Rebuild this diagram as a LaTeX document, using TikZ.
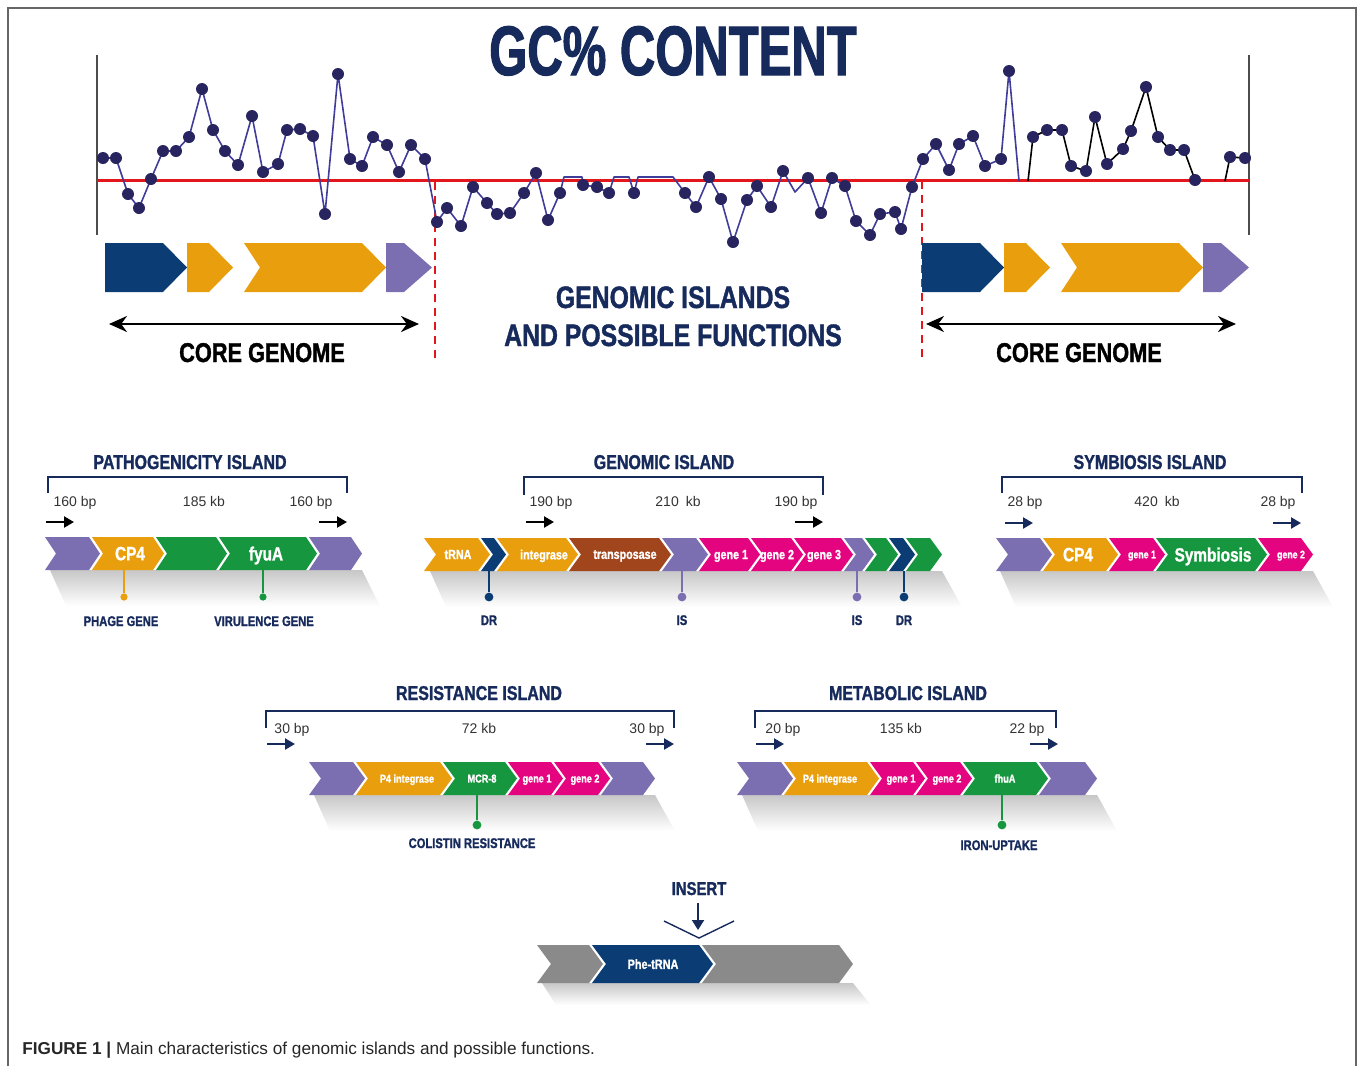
\documentclass[tikz,border=0pt]{standalone}
\usepackage{fontspec}
\setmainfont{Liberation Sans}
\newfontfamily\condfont[FakeStretch=0.8, BoldFeatures={FakeBold=1.3}]{Liberation Sans}
\newfontfamily\titlefont[FakeStretch=0.7, BoldFeatures={FakeBold=1.5}]{Liberation Sans}
\usetikzlibrary{positioning, arrows.meta, fadings}

\definecolor{ink}{HTML}{172A5C}
\definecolor{navy}{HTML}{0B3D74}
\definecolor{orng}{HTML}{E99E0E}
\definecolor{purp}{HTML}{7C6FB1}
\definecolor{grn}{HTML}{16963E}
\definecolor{mag}{HTML}{E4047F}
\definecolor{brwn}{HTML}{A1461C}
\definecolor{gry}{HTML}{8A8A8A}
\definecolor{redl}{HTML}{E3161C}
\definecolor{dotc}{HTML}{28245F}
\definecolor{linec}{HTML}{3F3C9A}

% chevron: fill, left x, tip x (row values in \rowT \rowB \rowM \rowD)
\newcommand{\chev}[3]{\fill[#1] (#2,\rowT) -- ({#3-\rowD},\rowT) -- (#3,\rowM) -- ({#3-\rowD},\rowB) -- (#2,\rowB) -- ({#2+\rowD},\rowM) -- cycle;}

\tikzset{
  gcline/.style={draw=linec, line width=0.8pt, line join=round},
  gcdot/.style={fill=dotc},
  islehead/.style={font=\condfont\bfseries\fontsize{10}{12}\selectfont, text=ink, anchor=base, inner sep=0pt},
  bplabel/.style={font=\fontsize{7}{8}\selectfont, text=black!80, anchor=base, inner sep=0pt},
  footlabel/.style={font=\condfont\bfseries\fontsize{7}{8}\selectfont, text=ink, anchor=base, inner sep=0pt},
  genetext/.style={text=white, inner sep=0pt, text depth=0pt},
  brk/.style={draw=ink, line width=0.8pt},
  bparrow/.style={line width=1.1pt, -{Triangle[length=5pt,width=5.5pt]}},
  stemline/.style={line width=0.8pt},
  rowshade/.style={fill=black!22, draw=none, path fading=south},
}

\begin{document}
\begin{tikzpicture}[x=0.5pt, y=-0.5pt]
\useasboundingbox (0,0) rectangle (1358,1066);
\draw[black!60, line width=1pt] (8,1066) -- (8,8) -- (1356,8) -- (1356,1066);

% title and graph
\node[font=\titlefont\bfseries\fontsize{35}{40}\selectfont, text=ink, anchor=base, inner sep=0pt] (gctitle) at (673,75) {GC\% CONTENT};
\draw[black!70, line width=0.6pt] (97,55) -- (97,235);
\draw[black!70, line width=0.6pt] (1249,55) -- (1249,235);
\draw[redl, line width=1.5pt] (97,180) -- (1249,180);
\draw[redl, line width=0.7pt, dash pattern=on 4pt off 3pt] (435,182) -- (435,362);
\draw[redl, line width=0.7pt, dash pattern=on 4pt off 3pt] (922,181) -- (922,362);

\draw[gcline] plot coordinates {(103,158) (116,158) (128,194) (139,208) (151,179) (163,151) (176,151) (189,137) (202,89) (213,130) (225,151) (238,165) (252,116) (263,172) (278,164) (287,130) (300,129) (313,136) (325,214) (338,74) (350,159) (362,166) (373,137) (387,145) (399,172) (411,145) (425,159) (437,222) (447,208) (461,226) (473,187) (487,203) (497,214) (510,213) (524,193) (536,173) (548,220) (560,193) (564,177) (582,177) (583,185) (597,187) (609,193) (614,177) (629,177) (634,193) (638,177) (673,177) (685,193) (696,207) (709,177) (721,199) (733,242) (747,200) (757,186) (771,207) (783,171) (795,192) (808,178) (821,213) (832,178) (845,186) (856,221) (870,235) (880,214) (895,212) (901,229) (912,187) (923,159) (936,144) (949,170) (959,144) (973,136) (985,166) (1001,159) (1009,71) (1019,181)};
\draw[black, line width=0.8pt] plot coordinates {(1028,181) (1033,137) (1047,130) (1062,130) (1071,166) (1086,171) (1095,117) (1107,164) (1123,149) (1131,131) (1146,87) (1158,137) (1170,150) (1184,150) (1195,180)};
\draw[black, line width=0.8pt] plot coordinates {(1225,181) (1230,157) (1245,158)};
\foreach \x/\y in {103/158, 116/158, 128/194, 139/208, 151/179, 163/151, 176/151, 189/137, 202/89, 213/130, 225/151, 238/165, 252/116, 263/172, 278/164, 287/130, 300/129, 313/136, 325/214, 338/74, 350/159, 362/166, 373/137, 387/145, 399/172, 411/145, 425/159, 437/222, 447/208, 461/226, 473/187, 487/203, 497/214, 510/213, 524/193, 536/173, 548/220, 560/193, 583/185, 597/187, 609/193, 634/193, 685/193, 696/207, 709/177, 721/199, 733/242, 747/200, 757/186, 771/207, 783/171, 808/178, 821/213, 832/178, 845/186, 856/221, 870/235, 880/214, 895/212, 901/229, 912/187, 923/159, 936/144, 949/170, 959/144, 973/136, 985/166, 1001/159, 1009/71, 1033/137, 1047/130, 1062/130, 1071/166, 1086/171, 1095/117, 1107/164, 1123/149, 1131/131, 1146/87, 1158/137, 1170/150, 1184/150, 1195/180, 1230/157, 1245/158}
  \fill[gcdot] (\x,\y) circle[radius=3pt];

% core genome rows
\foreach \s/\nm in {0/left, 817/right}{
\begin{scope}[shift={(\s,0)}]
\fill[navy] (105,243) -- (163,243) -- (187,267.5) -- (163,292) -- (105,292) -- cycle;
\fill[orng] (187,243) -- (209,243) -- (233,267.5) -- (209,292) -- (187,292) -- cycle;
\fill[orng] (244,243) -- (362,243) -- (386,267.5) -- (362,292) -- (244,292) -- (260,267.5) -- cycle;
\fill[purp] (386,243) -- (404,243) -- (432,267.5) -- (404,292) -- (386,292) -- cycle;
\draw[line width=1.2pt, {Stealth[length=9pt,width=8pt]}-{Stealth[length=9pt,width=8pt]}] (109,324) -- (419,324);
\node[font=\condfont\bfseries\fontsize{13.6}{15}\selectfont, anchor=base, inner sep=0pt] (core-\nm) at (262,362) {CORE GENOME};
\end{scope}}
\node[font=\condfont\bfseries\fontsize{15.5}{18}\selectfont, text=ink, anchor=base, inner sep=0pt] (gi-line1) at (673,308) {GENOMIC ISLANDS};
\node[font=\condfont\bfseries\fontsize{15.5}{18}\selectfont, text=ink, anchor=base, inner sep=0pt] (gi-line2) at (673,346) {AND POSSIBLE FUNCTIONS};

% pathogenicity island
\fill[rowshade] (50,570) -- (362,570) -- (380,606) -- (66,606) -- cycle;
\def\rowT{537}\def\rowB{570}\def\rowM{553.5}\def\rowD{11}
\node[islehead] (path-title) at (190,469) {PATHOGENICITY ISLAND};
\draw[brk] (48,493) -- (48,477) -- (347,477) -- (347,493);
\node[bplabel] (path-bp1) at (75,506) {160 bp};
\node[bplabel] (path-kb) at (204,506) {185 kb};
\node[bplabel] (path-bp2) at (311,506) {160 bp};
\draw[bparrow] (46,522) -- (74,522);
\draw[bparrow] (319,522) -- (347,522);
\chev{purp}{45}{100}
\chev{orng}{92}{164}
\chev{grn}{156}{227}
\chev{grn}{219}{317}
\chev{purp}{309}{362}
\node[genetext, font=\condfont\bfseries\fontsize{9.6}{11}\selectfont] (cp4-a) at (130,\rowM) {CP4};
\node[genetext, font=\condfont\bfseries\fontsize{9.6}{11}\selectfont] (fyua) at (266,\rowM) {fyuA};
\coordinate (phage-top) at (124,570);
\coordinate (vir-top) at (263,570);
\node[circle, fill=orng, inner sep=0pt, minimum size=3.6pt] (phage-dot) at (124,597) {};
\node[circle, fill=grn, inner sep=0pt, minimum size=3.6pt] (vir-dot) at (263,597) {};
\draw[stemline, orng] (phage-top) -- (phage-dot);
\draw[stemline, grn] (vir-top) -- (vir-dot);
\node[footlabel] (phage-lab) at (121,626) {PHAGE GENE};
\node[footlabel] (vir-lab) at (264,626) {VIRULENCE GENE};

% genomic island
\fill[rowshade] (430,571) -- (942,571) -- (962,607) -- (446,607) -- cycle;
\def\rowT{538}\def\rowB{571}\def\rowM{554.5}\def\rowD{12}
\node[islehead] (gen-title) at (664,469) {GENOMIC ISLAND};
\draw[brk] (524,495) -- (524,477) -- (823,477) -- (823,495);
\node[bplabel] (gen-bp1) at (551,506) {190 bp};
\node[bplabel] (gen-kb) at (678,506) {210\enspace kb};
\node[bplabel] (gen-bp2) at (796,506) {190 bp};
\draw[bparrow] (526,522) -- (554,522);
\draw[bparrow] (795,522) -- (823,522);
\chev{orng}{424}{490}
\chev{navy}{481}{506}
\chev{orng}{497}{578}
\chev{brwn}{569}{671}
\chev{purp}{662}{708}
\chev{mag}{699}{760}
\chev{mag}{751}{803}
\chev{mag}{794}{853}
\chev{purp}{844}{874}
\chev{grn}{865}{898}
\chev{navy}{889}{915}
\chev{grn}{906}{942}
\foreach \x/\t/\nm in {458/tRNA/trna, 544/integrase/int, 625/transposase/trans, 731/gene 1/g1, 777/gene 2/g2, 824/gene 3/g3}
  \node[genetext, font=\condfont\bfseries\fontsize{6.7}{8}\selectfont] (gen-\nm) at (\x,\rowM) {\t};
\foreach \x/\c/\t/\nm in {489/navy/DR/dr1, 682/purp/IS/is1, 857/purp/IS/is2, 904/navy/DR/dr2}{
  \coordinate (\nm-top) at (\x,571);
  \node[circle, fill=\c, inner sep=0pt, minimum size=4.4pt] (\nm-dot) at (\x,597) {};
  \draw[stemline, \c] (\nm-top) -- (\nm-dot);
  \node[footlabel] (\nm-lab) at (\x,625) {\t};
}

% symbiosis island
\fill[rowshade] (1000,571) -- (1313,571) -- (1333,607) -- (1016,607) -- cycle;
\node[islehead] (sym-title) at (1150,469) {SYMBIOSIS ISLAND};
\draw[brk] (1002,493) -- (1002,477) -- (1302,477) -- (1302,493);
\node[bplabel] (sym-bp1) at (1025,506) {28 bp};
\node[bplabel] (sym-kb) at (1157,506) {420\enspace kb};
\node[bplabel] (sym-bp2) at (1278,506) {28 bp};
\draw[bparrow, ink] (1005,523) -- (1033,523);
\draw[bparrow, ink] (1273,523) -- (1301,523);
\chev{purp}{996}{1052}
\chev{orng}{1043}{1118}
\chev{mag}{1109}{1165}
\chev{grn}{1156}{1267}
\chev{mag}{1258}{1313}
\node[genetext, font=\condfont\bfseries\fontsize{9.6}{11}\selectfont] (cp4-b) at (1078,\rowM) {CP4};
\node[genetext, font=\condfont\bfseries\fontsize{5.5}{7}\selectfont] (sym-g1) at (1142,\rowM) {gene 1};
\node[genetext, font=\condfont\bfseries\fontsize{9.6}{11}\selectfont] (sym-main) at (1213,\rowM) {Symbiosis};
\node[genetext, font=\condfont\bfseries\fontsize{5.5}{7}\selectfont] (sym-g2) at (1291,\rowM) {gene 2};

% resistance island
\def\rowT{762}\def\rowB{795}\def\rowM{778.5}\def\rowD{12}
\fill[rowshade] (314,795) -- (655,795) -- (675,831) -- (330,831) -- cycle;
\node[islehead] (res-title) at (479,700) {RESISTANCE ISLAND};
\draw[brk] (266,728) -- (266,711) -- (674,711) -- (674,728);
\node[bplabel] (res-bp1) at (292,733) {30 bp};
\node[bplabel] (res-kb) at (479,733) {72 kb};
\node[bplabel] (res-bp2) at (647,733) {30 bp};
\draw[bparrow, ink] (267,744) -- (295,744);
\draw[bparrow, ink] (646,744) -- (674,744);
\chev{purp}{309}{365}
\chev{orng}{356}{452}
\chev{grn}{443}{517}
\chev{mag}{508}{563}
\chev{mag}{554}{610}
\chev{purp}{601}{655}
\foreach \x/\t/\nm in {407/P4 integrase/p4, 482/MCR-8/mcr, 537/gene 1/g1, 585/gene 2/g2}
  \node[genetext, font=\condfont\bfseries\fontsize{5.7}{7}\selectfont] (res-\nm) at (\x,\rowM) {\t};
\coordinate (col-top) at (477,795);
\node[circle, fill=grn, inner sep=0pt, minimum size=4.4pt] (col-dot) at (477,825) {};
\draw[stemline, grn] (col-top) -- (col-dot);
\node[footlabel] (col-lab) at (472,848) {COLISTIN RESISTANCE};

% metabolic island
\fill[rowshade] (742,795) -- (1097,795) -- (1117,831) -- (758,831) -- cycle;
\node[islehead] (met-title) at (908,700) {METABOLIC ISLAND};
\draw[brk] (755,728) -- (755,711) -- (1056,711) -- (1056,728);
\node[bplabel] (met-bp1) at (783,733) {20 bp};
\node[bplabel] (met-kb) at (901,733) {135 kb};
\node[bplabel] (met-bp2) at (1027,733) {22 bp};
\draw[bparrow, ink] (756,744) -- (784,744);
\draw[bparrow, ink] (1030,744) -- (1058,744);
\chev{purp}{737}{793}
\chev{orng}{784}{879}
\chev{mag}{870}{925}
\chev{mag}{916}{972}
\chev{grn}{963}{1048}
\chev{purp}{1039}{1097}
\foreach \x/\t/\nm in {830/P4 integrase/p4, 901/gene 1/g1, 947/gene 2/g2, 1005/fhuA/fhu}
  \node[genetext, font=\condfont\bfseries\fontsize{5.7}{7}\selectfont] (met-\nm) at (\x,\rowM) {\t};
\coordinate (iron-top) at (1002,795);
\node[circle, fill=grn, inner sep=0pt, minimum size=4.4pt] (iron-dot) at (1002,825) {};
\draw[stemline, grn] (iron-top) -- (iron-dot);
\node[footlabel] (iron-lab) at (999,850) {IRON-UPTAKE};

% insert
\def\rowT{945}\def\rowB{983}\def\rowM{964}\def\rowD{14}
\fill[rowshade] (542,983) -- (853,983) -- (871,1005) -- (556,1005) -- cycle;
\node[islehead, font=\condfont\bfseries\fontsize{9.3}{11}\selectfont] (ins-title) at (699,895) {INSERT};
\coordinate (ins-from) at (698,903);
\coordinate (ins-to) at (698,930);
\draw[line width=1pt, ink, -{Triangle[length=5pt,width=6pt]}] (ins-from) -- (ins-to);
\draw[ink, line width=0.7pt] (664,921) -- (699,938) -- (734,921);
\chev{gry}{537}{603}
\chev{navy}{592}{713}
\chev{gry}{702}{853}
\node[genetext, font=\condfont\bfseries\fontsize{6.8}{8}\selectfont] (phe) at (653,\rowM) {Phe-tRNA};

% caption
\node[anchor=base west, inner sep=0pt, font=\fontsize{8.6}{10}\selectfont, text=black!85] (caption) at (22,1054) {\textbf{FIGURE 1 |} Main characteristics of genomic islands and possible functions.};
\end{tikzpicture}
\end{document}
